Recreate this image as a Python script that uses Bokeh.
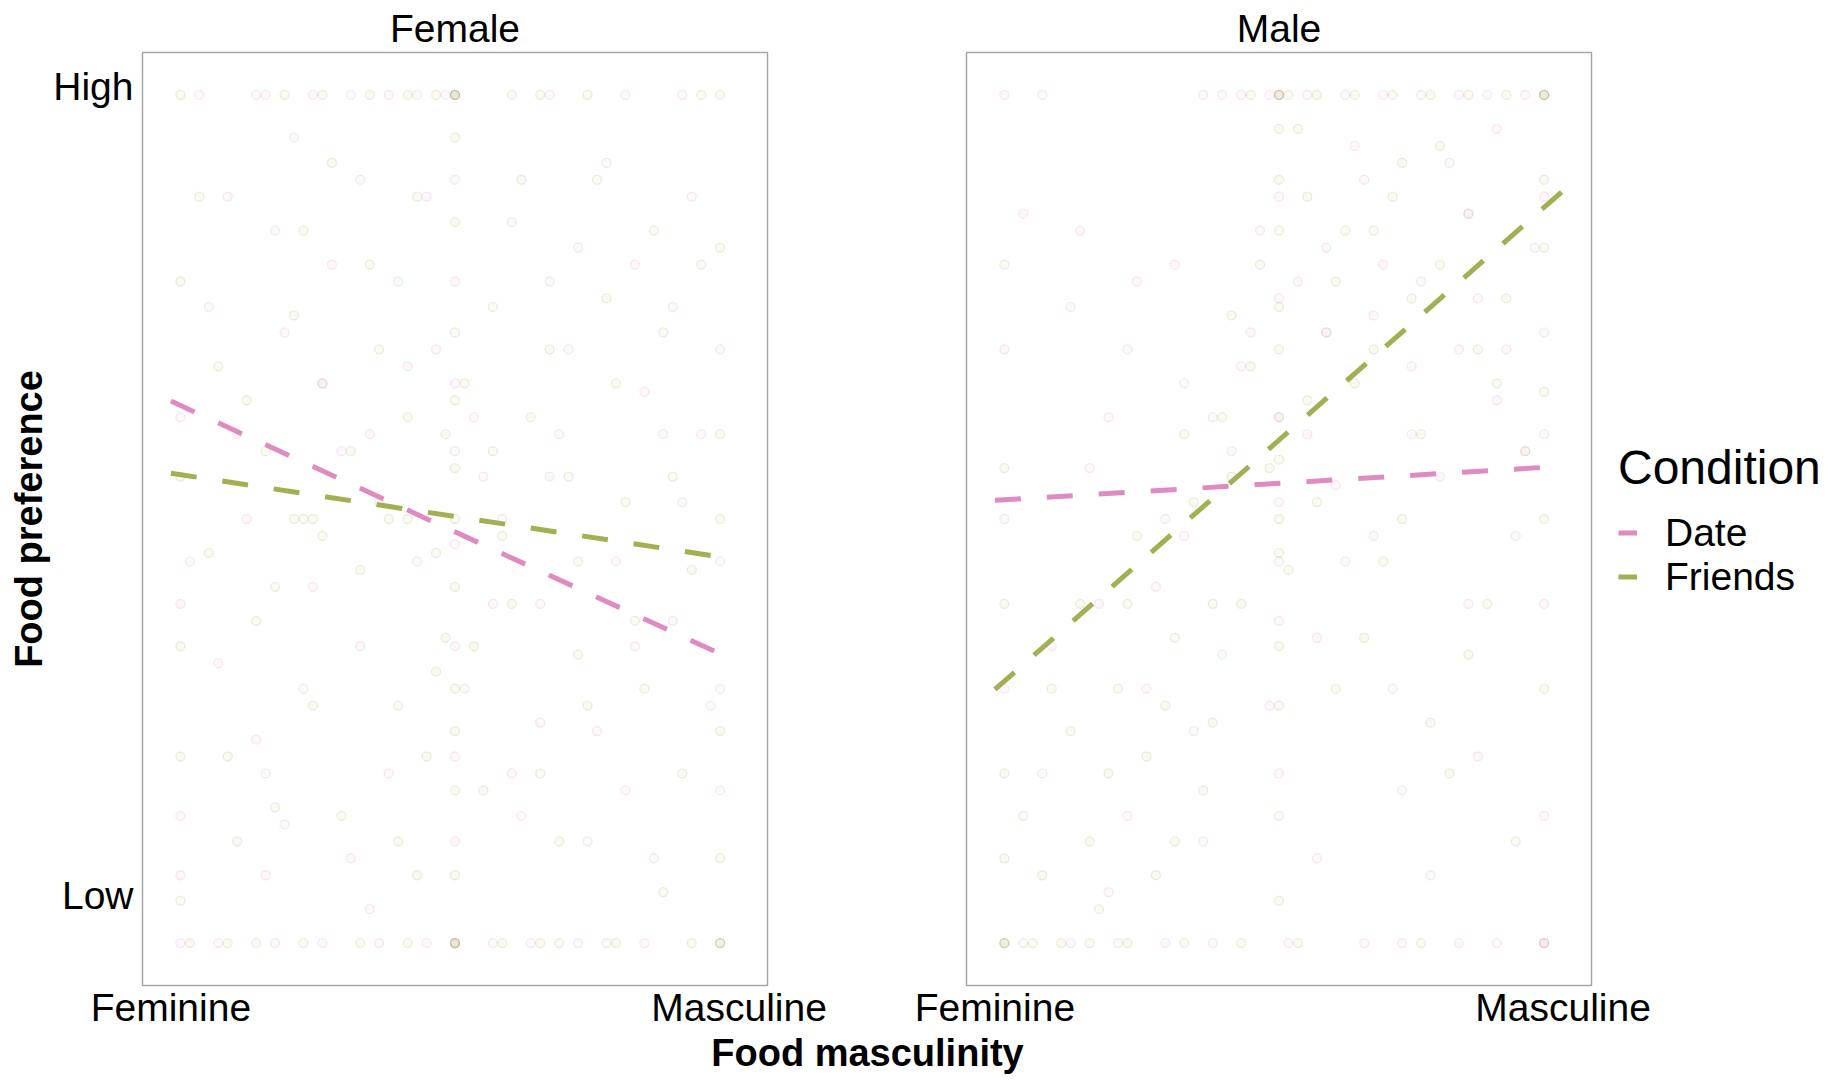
from bokeh.plotting import figure
from bokeh.models import Range1d, FixedTicker, Legend, LegendItem, Label, ColumnDataSource
from bokeh.layouts import row, column
from bokeh.embed import file_html
from bokeh.resources import INLINE

FONT = "Liberation Sans"
PINK = "#E08AC2"
GREEN = "#A4AE52"

# ---------------- data ----------------
panels = ["Female", "Male"]
conditions = ["Date", "Friends"]
x_ticks = [1, 7]
x_tick_labels = ["Feminine", "Masculine"]
y_ticks = [5.6, 101]
y_tick_labels = ["Low", "High"]

# fitted (dashed) lines: endpoints
female_date_line_x = [1.0, 6.82]
female_date_line_y = [63.9, 34.0]
female_friends_line_x = [1.0, 6.82]
female_friends_line_y = [55.4, 45.5]
male_date_line_x = [1.0, 6.82]
male_date_line_y = [52.2, 56.1]
male_friends_line_x = [1.0, 7.0]
male_friends_line_y = [29.9, 88.7]

# raw responses (approximate reading of the faint points)
female_date_x = [1.3, 1.9, 2.0, 2.5, 2.9, 3.3, 3.6, 3.9, 4.0, 4.0, 5.0, 5.8, 6.4,
                 1.1, 1.5, 2.1, 2.6, 3.2, 3.7, 4.0, 4.0, 4.4, 4.8, 5.3, 5.6, 6.0, 6.8,
                 4.0, 4.0, 4.0, 4.0, 4.0, 4.0, 4.0, 4.0,
                 1.1, 1.1, 1.1, 1.1,
                 6.8, 6.8, 6.8, 6.8,
                 1.6, 2.2, 2.7, 3.1, 1.8, 2.4, 3.3, 2.9, 4.6, 5.2, 5.6, 6.2, 4.9,
                 5.5, 6.1, 4.3, 3.6, 5.9, 2.0, 1.4, 6.5, 5.0, 4.7, 3.0, 2.3, 6.3,
                 1.2, 1.7, 2.1, 2.6, 3.0, 3.4, 3.8, 4.2, 4.5, 4.9, 5.3, 5.7, 6.0, 6.4, 6.7,
                 1.5, 2.0, 2.5, 3.2, 3.5, 4.1, 4.6, 5.1, 5.4, 5.9, 6.3, 1.9, 2.8, 3.7, 4.4,
                 5.0, 5.8, 6.6, 2.2, 3.1]
female_date_y = [100, 100, 100, 100, 100, 100, 100, 100, 100, 100, 100, 100, 100,
                 0, 0, 0, 0, 0, 0, 0, 0, 0, 0, 0, 0, 0, 0,
                 90, 78, 66, 58, 47, 35, 22, 12,
                 62, 40, 15, 8,
                 70, 45, 30, 18,
                 88, 72, 80, 60, 50, 30, 20, 10, 85, 70, 92, 60, 40,
                 25, 10, 55, 45, 80, 20, 75, 88, 55, 15, 35, 95, 38,
                 45, 60, 84, 66, 90, 78, 70, 62, 50, 26, 82, 45, 65, 52, 28,
                 33, 8, 42, 52, 68, 30, 20, 60, 12, 35, 75, 24, 58, 88, 40,
                 78, 18, 60, 14, 4]

female_friends_x = [1.1, 2.2, 2.6, 3.1, 3.5, 3.8, 4.0, 4.0, 4.0, 4.6, 4.9, 5.4, 6.6, 6.8,
                    1.2, 1.6, 1.9, 2.4, 3.0, 3.5, 4.0, 4.0, 4.0, 4.5, 4.9, 5.1, 5.7, 6.5, 6.8, 6.8,
                    4.0, 4.0, 4.0, 4.0, 4.0, 4.0, 4.0, 4.0, 4.0, 4.0, 4.0,
                    1.1, 1.1, 1.1, 1.1, 1.1,
                    6.8, 6.8, 6.8, 6.8, 6.8,
                    1.5, 2.0, 2.6, 3.2, 3.4, 3.7, 2.8, 1.9, 4.4, 4.8, 5.3, 5.8, 6.2,
                    6.0, 5.1, 4.2, 3.6, 2.4, 1.7, 5.5, 6.4, 3.9, 3.8, 4.5, 2.1, 3.3,
                    2.3, 2.4, 2.5, 3.5,
                    1.3, 1.8, 2.3, 2.7, 3.1, 3.5, 3.9, 4.3, 4.7, 5.0, 5.4, 5.9, 6.3, 6.6,
                    1.6, 2.1, 2.9, 3.4, 4.1, 4.6, 5.2, 5.6, 6.1, 6.5, 2.5, 3.0, 3.6, 4.4,
                    4.9, 5.7, 6.2, 1.4, 2.6, 3.8, 5.3]
female_friends_y = [100, 100, 100, 100, 100, 100, 100, 100, 100, 100, 100, 100, 100, 100,
                    0, 0, 0, 0, 0, 0, 0, 0, 0, 0, 0, 0, 0, 0, 0, 0,
                    95, 85, 72, 64, 56, 50, 42, 30, 25, 18, 8,
                    78, 55, 35, 22, 5,
                    82, 60, 50, 25, 10,
                    68, 58, 48, 70, 28, 22, 15, 38, 75, 62, 45, 52, 72,
                    30, 12, 35, 88, 84, 12, 90, 20, 60, 32, 48, 42, 50,
                    50, 50, 50, 50,
                    88, 64, 74, 92, 80, 62, 36, 18, 90, 70, 28, 38, 55, 80,
                    22, 16, 58, 12, 66, 40, 55, 76, 84, 44, 28, 44, 8, 58,
                    20, 66, 6, 46, 66, 46, 34]

male_date_x = [1.1, 1.5, 3.2, 3.4, 3.6, 3.9, 4.0, 4.0, 4.3, 4.7, 5.1, 5.5, 5.9, 6.2, 6.6, 6.8,
               1.3, 1.8, 2.3, 2.8, 3.3, 4.1, 4.9, 5.3, 5.9, 6.3, 6.8, 6.8,
               4.0, 4.0, 4.0, 4.0, 4.0, 4.0, 4.0,
               1.1, 1.1, 1.1,
               6.8, 6.8, 6.8, 6.8, 6.8,
               1.8, 2.5, 2.2, 3.0, 3.5, 2.8, 4.5, 5.0, 5.4, 6.0, 6.3, 5.7,
               4.7, 5.2, 6.1, 3.1, 2.4, 1.6, 4.4, 5.6, 3.7, 4.9, 2.1, 6.5,
               1.3, 1.9, 2.4, 2.9, 3.3, 3.6, 3.8, 4.2, 4.5, 4.8, 5.1, 5.4, 5.8, 6.1, 6.4, 6.7,
               2.0, 2.7, 3.4, 4.3, 4.6, 5.0, 5.5, 5.9, 6.3, 6.6, 1.5, 2.6, 3.2, 3.9,
               4.4, 5.3, 6.0, 2.2, 3.0]
male_date_y = [100, 100, 100, 100, 100, 100, 100, 100, 100, 100, 100, 100, 100, 100, 100, 100,
               0, 0, 0, 0, 0, 0, 0, 0, 0, 0, 0, 0,
               88, 76, 62, 52, 45, 38, 20,
               50, 70, 30,
               88, 72, 60, 40, 15,
               75, 78, 62, 66, 58, 50, 82, 74, 68, 86, 64, 55,
               45, 30, 22, 25, 15, 35, 10, 8, 72, 90, 40, 48,
               86, 84, 70, 80, 62, 68, 84, 78, 72, 94, 80, 60, 92, 76, 70, 82,
               56, 42, 34, 60, 54, 48, 78, 70, 96, 58, 20, 30, 12, 28,
               36, 18, 40, 6, 48]

male_friends_x = [3.7, 4.0, 4.0, 4.1, 4.4, 4.8, 5.2, 5.6, 6.0, 6.4, 6.8, 6.8, 6.8,
                  1.1, 1.1, 1.1, 1.4, 1.7, 2.0, 2.4, 3.0, 3.6, 4.2, 5.5, 6.8,
                  4.0, 4.0, 4.0, 4.0, 4.0, 4.0, 4.0, 4.0, 4.0, 4.0, 4.0, 4.0, 4.0,
                  1.1, 1.1, 1.1, 1.1, 1.1,
                  6.8, 6.8, 6.8, 6.8, 6.8,
                  2.3, 2.6, 2.9, 2.0, 3.3, 3.5, 3.2, 4.3, 4.6, 5.0, 5.3, 5.7,
                  6.1, 6.4, 4.8, 5.5, 6.2, 4.6, 5.8, 3.8, 2.7, 1.8, 3.0, 5.1,
                  1.3, 1.6, 1.9, 2.2, 2.5, 2.8, 3.1, 3.4, 3.7, 4.2, 4.5, 4.7, 5.0, 5.2,
                  5.4, 5.7, 6.0, 6.3, 6.6, 3.9, 4.1, 4.4, 4.9, 5.6, 6.5, 2.1, 2.9, 3.3,
                  3.6, 4.3, 5.3, 6.0, 1.5, 2.4, 3.5]
male_friends_y = [100, 100, 100, 100, 100, 100, 100, 100, 100, 100, 100, 100, 100,
                  0, 0, 0, 0, 0, 0, 0, 0, 0, 0, 0, 0,
                  96, 90, 84, 75, 70, 62, 57, 50, 46, 35, 28, 15, 5,
                  80, 56, 40, 20, 10,
                  90, 82, 65, 50, 30,
                  30, 22, 36, 12, 40, 55, 18, 88, 78, 84, 92, 80,
                  70, 76, 66, 60, 40, 30, 20, 80, 8, 25, 60, 45,
                  15, 30, 40, 20, 48, 28, 52, 62, 68, 96, 72, 84, 70, 88,
                  76, 94, 86, 66, 58, 56, 44, 52, 36, 26, 12, 4, 12, 26,
                  40, 64, 50, 34, 8, 40, 74]

axis_x_title = "Food masculinity"
axis_y_title = "Food preference"
legend_title = "Condition"


def make_panel(title, pts, lines, first):
    p = figure(frame_width=625, frame_height=933,
               x_range=Range1d(0.7, 7.3), y_range=Range1d(-5, 105),
               output_backend="svg", toolbar_location=None,
               min_border_top=52, min_border_bottom=47,
               min_border_left=142 if first else 100,
               min_border_right=99 if first else 236,
               background_fill_color="white", border_fill_color="white")
    p.title.text = title
    p.title.align = "center"
    p.title.text_font = FONT
    p.title.text_font_size = "39px"
    p.title.text_font_style = "normal"
    p.title.text_color = "black"
    p.title.standoff = 5
    p.outline_line_color = "#A6A6A6"
    p.outline_line_width = 1.5
    p.xgrid.visible = False
    p.ygrid.visible = False

    for ax in [p.xaxis[0], p.yaxis[0]]:
        ax.major_tick_line_color = None
        ax.minor_tick_line_color = None
        ax.major_tick_out = 0
        ax.major_tick_in = 0
        ax.minor_tick_out = 0
        ax.axis_line_color = None
        ax.major_label_text_font = FONT
        ax.major_label_text_font_size = "39px"
        ax.major_label_text_color = "black"

    p.xaxis.ticker = FixedTicker(ticks=x_ticks)
    p.xaxis.major_label_overrides = dict(zip(x_ticks, x_tick_labels))
    p.xaxis.major_label_standoff = 0

    if first:
        p.yaxis.ticker = FixedTicker(ticks=y_ticks)
        p.yaxis.major_label_overrides = dict(zip(y_ticks, y_tick_labels))
        p.yaxis.major_label_standoff = 9
        p.yaxis.axis_label = axis_y_title
        p.yaxis.axis_label_text_font = FONT
        p.yaxis.axis_label_text_font_size = "38px"
        p.yaxis.axis_label_text_font_style = "bold"
        p.yaxis.axis_label_text_color = "black"
        p.yaxis.axis_label_standoff = 0
    else:
        p.yaxis.visible = False

    colors = [PINK, GREEN]
    renderers = []
    for (xs, ys), col in zip(pts, colors):
        src = ColumnDataSource(dict(x=xs, y=ys))
        p.scatter("x", "y", source=src, size=9, fill_color=col, fill_alpha=0.06,
                  line_color=col, line_alpha=0.2, line_width=1.3)
    for (xs, ys), col in zip(lines, colors):
        src = ColumnDataSource(dict(x=xs, y=ys))
        r = p.line("x", "y", source=src, line_color=col, line_width=5,
                   line_dash="26 26")
        renderers.append(r)
    return p, renderers


pf, _ = make_panel(panels[0],
                   [(female_date_x, female_date_y), (female_friends_x, female_friends_y)],
                   [(female_date_line_x, female_date_line_y),
                    (female_friends_line_x, female_friends_line_y)], True)
pm, rms = make_panel(panels[1],
                     [(male_date_x, male_date_y), (male_friends_x, male_friends_y)],
                     [(male_date_line_x, male_date_line_y),
                      (male_friends_line_x, male_friends_line_y)], False)

legend = Legend(items=[LegendItem(label=c, renderers=[r]) for c, r in zip(conditions, rms)],
                title=legend_title, location="center_left")
legend.title_text_font = FONT
legend.title_text_font_size = "48px"
legend.title_text_font_style = "normal"
legend.title_text_color = "black"
legend.title_standoff = 16
legend.label_text_font = FONT
legend.label_text_font_size = "39px"
legend.label_text_color = "black"
legend.glyph_width = 19
legend.glyph_height = 20
legend.label_height = 20
legend.label_standoff = 28
legend.spacing = 0
legend.padding = 0
legend.margin = 27
legend.border_line_color = None
legend.background_fill_alpha = 0
pm.add_layout(legend, "right")

bottom = figure(width=1734, height=46, x_range=Range1d(0, 1), y_range=Range1d(0, 1),
                output_backend="svg", toolbar_location=None, title=None,
                x_axis_type=None, y_axis_type=None, min_border=0,
                outline_line_color=None, background_fill_color="white",
                border_fill_color="white")
bottom.grid.visible = False
bottom.add_layout(Label(x=0.5, y=0.565, text=axis_x_title, text_align="center",
                        text_baseline="middle", text_font=FONT, text_font_size="38px",
                        text_font_style="bold", text_color="black"))

layout = column(row(pf, pm), bottom)
open("out.html", "w").write(file_html(layout, INLINE))
